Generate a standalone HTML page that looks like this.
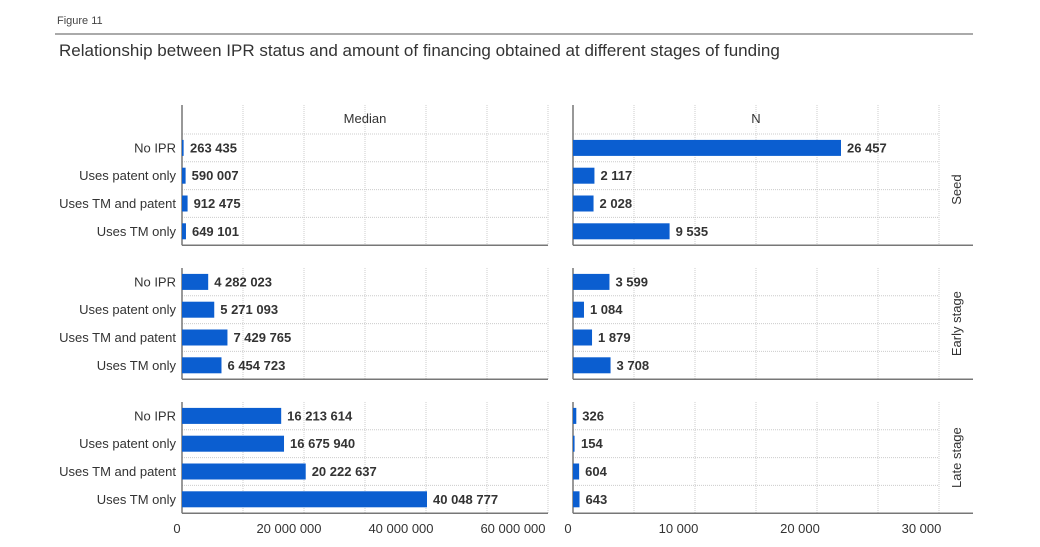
<!DOCTYPE html>
<html><head><meta charset="utf-8"><style>
body{margin:0;background:#fff;font-family:"Liberation Sans",sans-serif;}
svg text{font-family:"Liberation Sans",sans-serif;}
</style></head><body>
<svg id="chart" width="1040" height="542" xmlns="http://www.w3.org/2000/svg">
<text x="57" y="24" font-size="11" fill="#444">Figure 11</text>
<line x1="55" y1="34" x2="973" y2="34" stroke="#555" stroke-width="1"/>
<text x="59" y="56" font-size="17" fill="#333">Relationship between IPR status and amount of financing obtained at different stages of funding</text>
<g id="marks"></g>
</svg>
<script>
const categories = ["No IPR","Uses patent only","Uses TM and patent","Uses TM only"];
const stages = ["Seed","Early stage","Late stage"];
const medianSeed = [263435, 590007, 912475, 649101];
const medianEarly = [4282023, 5271093, 7429765, 6454723];
const medianLate = [16213614, 16675940, 20222637, 40048777];
const nSeed = [26457, 2117, 2028, 9535];
const nEarly = [3599, 1084, 1879, 3708];
const nLate = [326, 154, 604, 643];
const medianTicks = [0, 20000000, 40000000, 60000000];
const medianTickLabels = ["0","20 000 000","40 000 000","60 000 000"];
const nTicks = [0, 10000, 20000, 30000];
const nTickLabels = ["0","10 000","20 000","30 000"];

const NS="http://www.w3.org/2000/svg";
const g=document.getElementById('marks');
function mk(tag,attrs,parent){const e=document.createElementNS(NS,tag);for(const k in attrs)e.setAttribute(k,attrs[k]);(parent||g).appendChild(e);return e;}
function fmt(v){return String(v).replace(/\B(?=(\d{3})+(?!\d))/g," ");}
const xL=v=>182+v*245/40048777;
const xR=v=>573+v*268/26457;
const tickL=v=>177+v*5.6/1e6;
const tickR=v=>557+v*0.01215;
const L0=182,L1=548,R0=573,R1=939,RS=973;
const panels=[{top:105,rows0:134},{top:268,rows0:268},{top:402,rows0:402}];
const medData=[medianSeed,medianEarly,medianLate];
const nData=[nSeed,nEarly,nLate];
const rowH=27.8;
const blue="#0b5ed0";
panels.forEach((p,pi)=>{
  const bottom=p.rows0+4*rowH;
  // gridlines
  for(let i=1;i<=6;i++){
    const x=L0+i*(L1-L0)/6;
    mk('line',{x1:x,y1:p.top,x2:x,y2:bottom,stroke:'#ccc','stroke-dasharray':'1,1'});
    const xr=R0+i*61;
    if(xr<=R1+1) mk('line',{x1:xr,y1:p.top,x2:xr,y2:bottom,stroke:'#ccc','stroke-dasharray':'1,1'});
  }
  for(let r=0;r<4;r++){
    if(r>0||pi===0){
      const y=p.rows0+r*rowH;
      mk('line',{x1:L0,y1:y,x2:L1,y2:y,stroke:'#ccc','stroke-dasharray':'1,1'});
      mk('line',{x1:R0,y1:y,x2:R1,y2:y,stroke:'#ccc','stroke-dasharray':'1,1'});
    }
  }
  mk('line',{x1:L0,y1:p.top,x2:L0,y2:bottom,stroke:'#777','stroke-width':1.5});
  mk('line',{x1:L0,y1:bottom,x2:L1,y2:bottom,stroke:'#777','stroke-width':1.5});
  mk('line',{x1:R0,y1:p.top,x2:R0,y2:bottom,stroke:'#777','stroke-width':1.5});
  mk('line',{x1:R0,y1:bottom,x2:RS,y2:bottom,stroke:'#777','stroke-width':1.5});
  const st=mk('text',{x:0,y:0,'font-size':13,fill:'#333','text-anchor':'middle',transform:`translate(961,${(p.rows0+bottom)/2}) rotate(-90)`});
  st.textContent=stages[pi];
  
  
  categories.forEach((c,ri)=>{
    const cy=p.rows0+ri*rowH+rowH/2;
    const t=mk('text',{x:176,y:cy+4.5,'font-size':13,fill:'#333','text-anchor':'end'});
    t.textContent=c;
    
    
    const mv=medData[pi][ri];
    const b=mk('rect',{x:L0,y:cy-8,width:Math.max(1.5,xL(mv)-L0),height:16,fill:blue});
    
    
    const vt=mk('text',{x:Math.max(xL(mv),L0+2)+6,y:cy+4.5,'font-size':13,'font-weight':'bold',fill:'#333'});
    vt.textContent=fmt(mv);
    
    
    const nv=nData[pi][ri];
    const b2=mk('rect',{x:R0,y:cy-8,width:Math.max(1.5,xR(nv)-R0),height:16,fill:blue});
    
    
    const nt=mk('text',{x:Math.max(xR(nv),R0+2)+6,y:cy+4.5,'font-size':13,'font-weight':'bold',fill:'#333'});
    nt.textContent=fmt(nv);
    
    
  });
});
const h1=mk('text',{x:(L0+L1)/2,y:123,'font-size':13,fill:'#333','text-anchor':'middle'});
h1.textContent="Median";


const h2=mk('text',{x:(R0+R1)/2,y:123,'font-size':13,fill:'#333','text-anchor':'middle'});
h2.textContent="N";


medianTicks.forEach((v,i)=>{
  const t=mk('text',{x:tickL(v),y:533,'font-size':13,fill:'#333','text-anchor':'middle'});
  t.textContent=medianTickLabels[i];
  
  
});
nTicks.forEach((v,i)=>{
  const t=mk('text',{x:i===0?568:tickR(v),y:533,'font-size':13,fill:'#333','text-anchor':'middle'});
  t.textContent=nTickLabels[i];
  
  
});
</script>
</body></html>
